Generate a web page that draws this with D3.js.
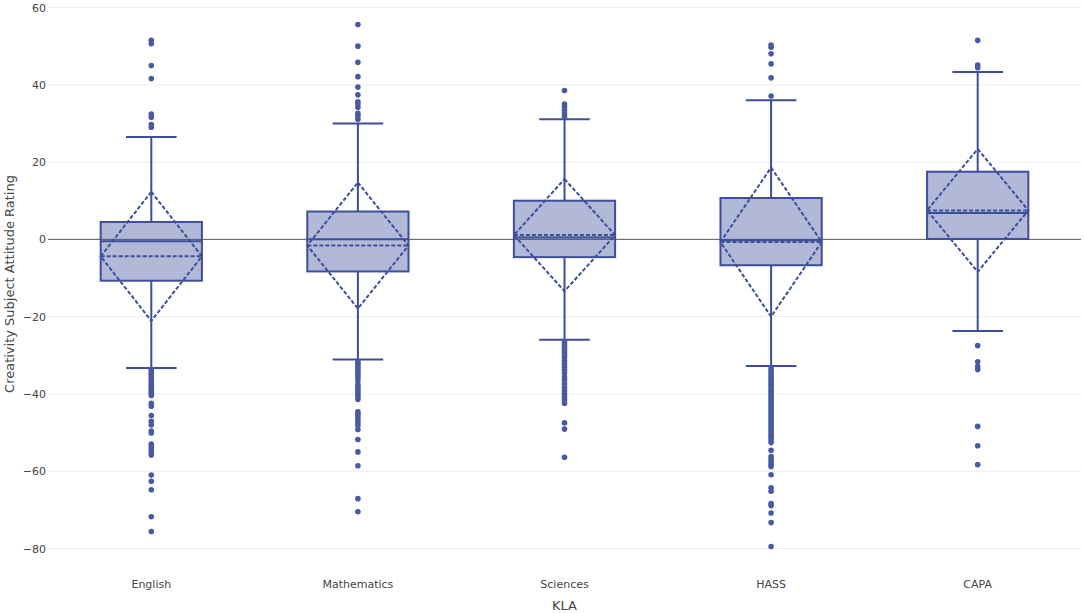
<!DOCTYPE html>
<html>
<head>
<meta charset="utf-8">
<script src="https://cdn.jsdelivr.net/npm/d3@7"></script>
<style>
  body { margin: 0; background: #fff; }
  text { font-family: "DejaVu Sans", Verdana, sans-serif; fill: #444; }
</style>
</head>
<body>
<div id="chart"></div>
<script>
const categories = ["English", "Mathematics", "Sciences", "HASS", "CAPA"];
const q1 = [-10.7, -8.3, -4.6, -6.7, 0.1];
const medians = [-0.5, 0.0, 0.5, -0.2, 6.8];
const q3 = [4.5, 7.2, 10.0, 10.7, 17.5];
const lowerFence = [-33.3, -31.1, -26.0, -32.8, -23.7];
const upperFence = [26.5, 30.0, 31.1, 36.0, 43.3];
const means = [-4.4, -1.6, 1.1, -0.7, 7.5];
const sds = [16.7, 16.3, 14.5, 19.3, 15.9];

const outliersEnglish = [51.5, 50.6, 45.0, 41.6, 32.4, 31.6, 29.7, 29.0,
  -33.6, -34.2, -34.8, -35.3, -35.9, -36.4, -37.0, -37.6, -38.1, -38.7, -39.3, -39.8, -40.4,
  -42.4, -43.2, -45.6, -47.1, -48.0, -49.6, -50.1, -53.0, -53.7, -54.3, -55.0, -55.8,
  -61.0, -62.6, -64.8, -71.8, -75.6];
const outliersMathematics = [55.6, 50.0, 45.8, 42.1, 39.4, 37.4, 35.6, 35.0, 34.2, 32.6, 31.9, 31.1,
  -31.6, -32.2, -32.8, -33.4, -34.0, -34.6, -35.2, -35.8, -36.6, -37.6, -38.2, -38.8, -39.4,
  -40.0, -40.6, -41.4, -44.6, -45.2, -45.8, -46.6, -47.4, -48.2, -49.2, -51.8, -55.0, -58.6,
  -67.1, -70.5];
const outliersSciences = [38.5, 35.0, 34.3, 33.5, 32.6, 31.8,
  -26.4, -27.0, -27.6, -28.2, -28.8, -29.4, -30.0, -30.6, -31.4, -32.2, -33.0, -33.8, -34.6,
  -35.6, -36.4, -37.4, -38.4, -39.2, -40.0, -40.8, -41.6, -42.4, -47.5, -49.1, -56.4];
const outliersHASS = [50.3, 49.7, 48.0, 45.4, 41.8, 37.1,
  -33.3, -33.9, -34.5, -35.1, -35.7, -36.3, -36.9, -37.5, -38.1, -38.7, -39.3, -39.9, -40.5,
  -41.1, -41.7, -42.3, -42.9, -43.5, -44.1, -44.7, -45.3, -45.9, -46.5, -47.1, -47.7, -48.3,
  -48.9, -49.5, -50.1, -50.7, -51.3, -51.9, -52.6, -54.6, -56.2, -56.9, -57.6, -58.2, -58.8,
  -60.9, -64.3, -65.2, -68.4, -68.9, -70.8, -73.3, -79.5];
const outliersCAPA = [51.5, 45.1, 44.4, -27.5, -31.7, -32.9, -33.7, -48.4, -53.4, -58.3];
const outliers = [outliersEnglish, outliersMathematics, outliersSciences, outliersHASS, outliersCAPA];

const yTicks = [-80, -60, -40, -20, 0, 20, 40, 60];

const width = 1084;
const height = 613;
const margin = { top: 7.5, right: 3, bottom: 64.5, left: 48 };
const lineColor = "#3e4e9a";
const fillColor = "rgba(62, 78, 154, 0.4)";
const markerColor = "#4a5aa0";

const svg = d3.select("#chart")
  .append("svg")
  .attr("width", width)
  .attr("height", height);

const xScale = d3.scaleBand()
  .domain(categories)
  .range([margin.left, width - margin.right])
  .padding(0);
const yScale = d3.scaleLinear()
  .domain([-80, 60])
  .range([height - margin.bottom, margin.top]);

const boxWidth = xScale.bandwidth() * 0.49;
const capWidth = boxWidth * 0.5;

// grid
svg.append("g")
  .selectAll("line")
  .data(yTicks.filter((d) => d !== 0))
  .join("line")
  .attr("x1", margin.left)
  .attr("x2", width - margin.right)
  .attr("y1", (d) => yScale(d))
  .attr("y2", (d) => yScale(d))
  .attr("stroke", "#eeeeee")
  .attr("stroke-width", 1);

svg.append("line")
  .attr("x1", margin.left)
  .attr("x2", width - margin.right)
  .attr("y1", yScale(0))
  .attr("y2", yScale(0))
  .attr("stroke", "#555")
  .attr("stroke-width", 1);

// axes
const yAxis = svg.append("g")
  .attr("transform", `translate(${margin.left - 2}, 0)`)
  .call(d3.axisLeft(yScale).tickValues(yTicks).tickSize(0).tickPadding(0));
yAxis.select(".domain").remove();
yAxis.selectAll("text")
  .attr("font-size", 11)
  .attr("font-family", "DejaVu Sans, Verdana, sans-serif")
  .attr("fill", "#444");

const xAxis = svg.append("g")
  .attr("transform", `translate(0, 580)`)
  .call(d3.axisBottom(xScale).tickSize(0).tickPadding(0));
xAxis.select(".domain").remove();
xAxis.selectAll("text")
  .attr("font-size", 11)
  .attr("font-family", "DejaVu Sans, Verdana, sans-serif")
  .attr("fill", "#444");

svg.append("text")
  .attr("x", (margin.left + width - margin.right) / 2)
  .attr("y", 610)
  .attr("text-anchor", "middle")
  .attr("font-size", 13)
  .text("KLA");

svg.append("text")
  .attr("transform", `translate(14, ${284}) rotate(-90)`)
  .attr("text-anchor", "middle")
  .attr("font-size", 13)
  .text("Creativity Subject Attitude Rating");

// boxes
const groups = svg.append("g")
  .selectAll("g")
  .data(categories)
  .join("g")
  .attr("transform", (d) => `translate(${xScale(d) + xScale.bandwidth() / 2}, 0)`);

groups.append("rect")
  .attr("x", -boxWidth / 2)
  .attr("width", boxWidth)
  .attr("y", (d, i) => yScale(q3[i]))
  .attr("height", (d, i) => yScale(q1[i]) - yScale(q3[i]))
  .attr("fill", fillColor)
  .attr("stroke", lineColor)
  .attr("stroke-width", 2);

groups.append("line")
  .attr("x1", -boxWidth / 2)
  .attr("x2", boxWidth / 2)
  .attr("y1", (d, i) => yScale(medians[i]))
  .attr("y2", (d, i) => yScale(medians[i]))
  .attr("stroke", lineColor)
  .attr("stroke-width", 2);

// whiskers
groups.append("line")
  .attr("x1", 0).attr("x2", 0)
  .attr("y1", (d, i) => yScale(q3[i]))
  .attr("y2", (d, i) => yScale(upperFence[i]))
  .attr("stroke", lineColor)
  .attr("stroke-width", 2);
groups.append("line")
  .attr("x1", 0).attr("x2", 0)
  .attr("y1", (d, i) => yScale(q1[i]))
  .attr("y2", (d, i) => yScale(lowerFence[i]))
  .attr("stroke", lineColor)
  .attr("stroke-width", 2);
groups.append("line")
  .attr("x1", -capWidth / 2).attr("x2", capWidth / 2)
  .attr("y1", (d, i) => yScale(upperFence[i]))
  .attr("y2", (d, i) => yScale(upperFence[i]))
  .attr("stroke", lineColor)
  .attr("stroke-width", 2);
groups.append("line")
  .attr("x1", -capWidth / 2).attr("x2", capWidth / 2)
  .attr("y1", (d, i) => yScale(lowerFence[i]))
  .attr("y2", (d, i) => yScale(lowerFence[i]))
  .attr("stroke", lineColor)
  .attr("stroke-width", 2);

// mean and sd diamond
groups.append("path")
  .attr("d", (d, i) => {
    const m = yScale(means[i]);
    const top = yScale(means[i] + sds[i]);
    const bottom = yScale(means[i] - sds[i]);
    return `M0,${top}L${boxWidth / 2},${m}L0,${bottom}L${-boxWidth / 2},${m}Z`;
  })
  .attr("fill", "none")
  .attr("stroke", lineColor)
  .attr("stroke-width", 2)
  .attr("stroke-dasharray", "4,2");
groups.append("line")
  .attr("x1", -boxWidth / 2).attr("x2", boxWidth / 2)
  .attr("y1", (d, i) => yScale(means[i]))
  .attr("y2", (d, i) => yScale(means[i]))
  .attr("stroke", lineColor)
  .attr("stroke-width", 2)
  .attr("stroke-dasharray", "4,2");

// outliers
groups.selectAll("circle")
  .data((d, i) => outliers[i])
  .join("circle")
  .attr("cx", 0)
  .attr("cy", (d) => yScale(d))
  .attr("r", 2.8)
  .attr("fill", markerColor);
</script>
</body>
</html>
